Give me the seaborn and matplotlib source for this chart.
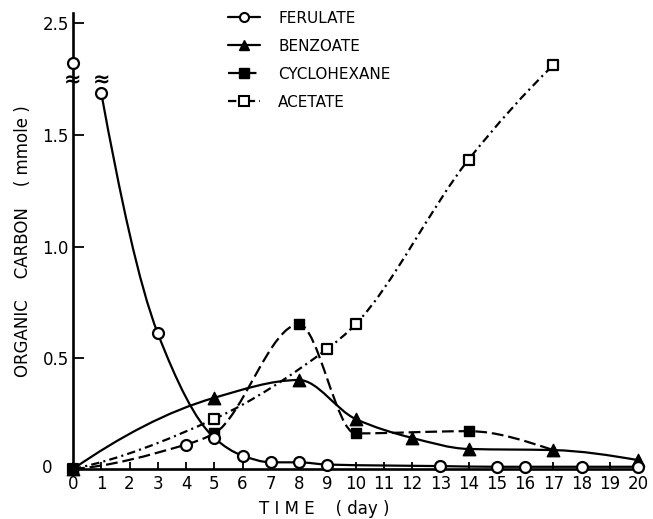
import numpy as np
import pandas as pd
import matplotlib
matplotlib.use("Agg")
import matplotlib.pyplot as plt
import matplotlib.transforms as mtransforms
import seaborn as sns
from matplotlib.path import Path
from matplotlib.patches import PathPatch
from matplotlib.lines import Line2D

# ---------------- data ----------------
ferulate_day = [0, 1, 3, 5, 6, 7, 8, 9, 13, 15, 16, 18, 20]
ferulate_val = [2.32, 1.69, 0.61, 0.14, 0.06, 0.03, 0.03, 0.02, 0.013, 0.01, 0.01, 0.01, 0.01]

benzoate_day = [0, 5, 8, 10, 12, 14, 17, 20]
benzoate_val = [0.0, 0.32, 0.40, 0.225, 0.14, 0.09, 0.085, 0.04]

cyclohexane_day = [0, 4, 5, 8, 10, 14, 17]
cyclohexane_val = [0.0, 0.11, 0.16, 0.65, 0.16, 0.17, 0.085]
cyclohexane_open_day = 4      # point drawn as an open circle in the original

acetate_day = [0, 5, 9, 10, 14, 17]
acetate_val = [0.0, 0.225, 0.54, 0.65, 1.39, 1.815]

series_names = ["FERULATE", "BENZOATE", "CYCLOHEXANE", "ACETATE"]
x_ticks = list(range(0, 21))
y_ticks = [0, 0.5, 1.0, 1.5, 2.5]
y_ticklabels = ["0", "0.5", "1.0", "1.5", "2.5"]
x_label = "T I M E    ( day )"
y_label = "ORGANIC    CARBON    ( mmole )"

# broken axis: values between BREAK_LO and BREAK_LO + BREAK_GAP are skipped
BREAK_LO = 1.82
BREAK_GAP = 0.4955
BREAK_MARK = 1.745

# ---------------- style ----------------
sns.set_style("ticks")
plt.rcParams["font.family"] = ["DejaVu Sans"]
plt.rcParams["lines.scale_dashes"] = False
plt.rcParams["text.color"] = "black"
plt.rcParams["axes.labelcolor"] = "black"

fig = plt.figure(figsize=(6.53, 5.19), dpi=100)
ax = fig.add_axes([73 / 653, 50 / 519, 565 / 653, 456 / 519])


def fwd(v):
    v = np.asarray(v, dtype=float)
    return np.where(v <= BREAK_LO, v, np.maximum(BREAK_LO, v - BREAK_GAP))


def inv(t):
    t = np.asarray(t, dtype=float)
    return np.where(t <= BREAK_LO, t, t + BREAK_GAP)


ax.set_yscale("function", functions=(fwd, inv))
ax.set_xlim(0, 20)
ax.set_ylim(0, 2.545)


def pchip_slopes(x, y):
    x = np.asarray(x, float)
    y = np.asarray(y, float)
    h = np.diff(x)
    d = np.diff(y) / h
    n = len(x)
    m = np.zeros(n)
    for k in range(1, n - 1):
        if d[k - 1] * d[k] <= 0:
            m[k] = 0.0
        else:
            w1 = 2 * h[k] + h[k - 1]
            w2 = h[k] + 2 * h[k - 1]
            m[k] = (w1 + w2) / (w1 / d[k - 1] + w2 / d[k])

    def end(h0, h1, d0, d1):
        s = ((2 * h0 + h1) * d0 - h0 * d1) / (h0 + h1)
        if np.sign(s) != np.sign(d0):
            return 0.0
        if np.sign(d0) != np.sign(d1) and abs(s) > 3 * abs(d0):
            return 3 * d0
        return s

    m[0] = end(h[0], h[1], d[0], d[1])
    m[-1] = end(h[-1], h[-2], d[-1], d[-2])
    return m


def smooth_path(x, y):
    x = np.asarray(x, float)
    y = np.asarray(y, float)
    m = pchip_slopes(x, y)
    verts = [(x[0], y[0])]
    codes = [Path.MOVETO]
    for k in range(len(x) - 1):
        h = x[k + 1] - x[k]
        verts += [(x[k] + h / 3, y[k] + m[k] * h / 3),
                  (x[k + 1] - h / 3, y[k + 1] - m[k + 1] * h / 3),
                  (x[k + 1], y[k + 1])]
        codes += [Path.CURVE4] * 3
    return Path(verts, codes)


LW = 1.6
dash_cyc = (0, (8.5, 3.5))
dash_ace = (0, (6.0, 3.0, 1.5, 3.0))

# smooth curves
for xs, ys, ls in [
    (ferulate_day[1:], ferulate_val[1:], "-"),
    (benzoate_day, benzoate_val, "-"),
    (cyclohexane_day, cyclohexane_val, dash_cyc),
    (acetate_day, acetate_val, dash_ace),
]:
    ax.add_patch(PathPatch(smooth_path(xs, ys), fill=False, edgecolor="black",
                           linewidth=LW, linestyle=ls, zorder=2, clip_on=False))

# markers via seaborn
fer = pd.DataFrame({"day": ferulate_day, "val": ferulate_val})
ben = pd.DataFrame({"day": benzoate_day, "val": benzoate_val})
cyc = pd.DataFrame({"day": cyclohexane_day, "val": cyclohexane_val})
ace = pd.DataFrame({"day": acetate_day, "val": acetate_val})

cyc_sq = cyc.iloc[:-1]
cyc_sq = cyc_sq[cyc_sq["day"] != cyclohexane_open_day]
cyc_open = cyc[cyc["day"] == cyclohexane_open_day]

common = dict(ax=ax, clip_on=False, legend=False, zorder=4)
sns.scatterplot(data=ace, x="day", y="val", marker="s", s=62, color="white",
                edgecolor="black", linewidth=1.6, **common)
sns.scatterplot(data=cyc_sq, x="day", y="val", marker="s", s=62, color="black",
                edgecolor="black", linewidth=1.0, **common)
sns.scatterplot(data=cyc_open, x="day", y="val", marker="o", s=62, color="white",
                edgecolor="black", linewidth=1.6, **common)
sns.scatterplot(data=ben, x="day", y="val", marker="^", s=80, color="black",
                edgecolor="black", linewidth=1.0, **common)
sns.scatterplot(data=fer, x="day", y="val", marker="o", s=62, color="white",
                edgecolor="black", linewidth=1.6, **common)

# axis break marks
for bx in [0, ferulate_day[1]]:
    ax.text(bx, BREAK_MARK, "≈", ha="center", va="center", fontsize=15,
            fontweight="bold", color="black", zorder=5, clip_on=False)
ax.vlines(ferulate_day[1], ferulate_val[1], BREAK_MARK - 0.03, color="black",
          linewidth=LW, zorder=2)

# axes styling
sns.despine(ax=ax)
for sp in ["left", "bottom"]:
    ax.spines[sp].set_linewidth(1.9)
    ax.spines[sp].set_color("black")
ax.set_xticks(x_ticks)
ax.set_xticklabels([str(t) for t in x_ticks])
ax.set_yticks(y_ticks)
ax.set_yticklabels(y_ticklabels)
ax.tick_params(axis="x", direction="in", length=5, width=1.3, pad=4,
               labelsize=12, colors="black")
ax.tick_params(axis="y", direction="in", length=8, width=1.3, pad=3,
               labelsize=12, colors="black")
ax.minorticks_off()

# the "0" on the y axis sits further left in the original
zero_lab = ax.get_yticklabels()[0]
zero_lab.set_transform(zero_lab.get_transform() +
                       mtransforms.ScaledTranslation(-12 / 72, 2 / 72, fig.dpi_scale_trans))

ax.set_xlabel(x_label, fontsize=12, color="black")
ax.set_ylabel(y_label, fontsize=12, color="black")
ax.xaxis.set_label_coords(0.444, -0.068)
ax.yaxis.set_label_coords(-0.073, 0.5)

# legend
handles = [
    Line2D([], [], color="black", lw=LW, ls="-", marker="o", ms=6.5,
           mfc="white", mec="black", mew=1.5),
    Line2D([], [], color="black", lw=LW, ls="-", marker="^", ms=7.5,
           mfc="black", mec="black"),
    Line2D([], [], color="black", lw=LW, ls=dash_cyc, marker="s", ms=6.5,
           mfc="black", mec="black"),
    Line2D([], [], color="black", lw=LW, ls=dash_ace, marker="s", ms=6.5,
           mfc="white", mec="black", mew=1.5),
]
ax.legend(handles, series_names, loc="upper left", bbox_to_anchor=(0.274, 1.005),
          frameon=False, fontsize=11, handlelength=2.1, handletextpad=1.2,
          labelspacing=0.85, borderpad=0, borderaxespad=0, labelcolor="black")

fig.savefig("out.png", dpi=100)
